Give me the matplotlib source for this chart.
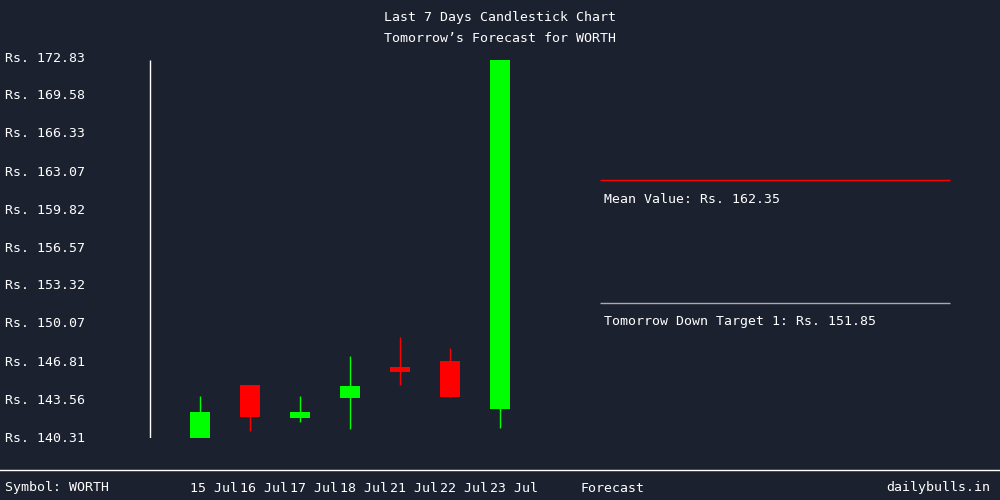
import matplotlib
matplotlib.use("Agg")
import matplotlib.pyplot as plt

dates = ["15 Jul", "16 Jul", "17 Jul", "18 Jul", "21 Jul", "22 Jul", "23 Jul"]
opens = [140.14, 144.85, 142.02, 143.73, 146.39, 146.90, 142.79]
closes = [142.53, 142.11, 142.53, 144.76, 145.96, 143.82, 172.66]
highs = [143.90, 144.85, 143.90, 147.33, 148.95, 148.01, 172.66]
lows = [140.14, 140.91, 141.68, 141.08, 144.85, 143.82, 141.17]
yticks = [140.31, 143.56, 146.81, 150.07, 153.32, 156.57, 159.82, 163.07, 166.33, 169.58, 172.83]
mean_value = 162.35
target1 = 151.85
symbol = "WORTH"

bg = "#1c2130"
fs = 9.5
plt.rcParams["font.family"] = ["DejaVu Sans Mono"]
fig = plt.figure(figsize=(10, 5), dpi=100, facecolor=bg)
ax = fig.add_axes([0, 0.124, 1, 0.76])
ax.set_facecolor(bg)
ax.set_xlim(-4, 16)
ax.set_ylim(140.31, 172.83)
ax.axis("off")

for i, (o, c, h, l) in enumerate(zip(opens, closes, highs, lows)):
    col = "#00ff00" if c >= o else "#ff0000"
    ax.vlines(i, l, h, color=col, lw=1)
    ax.bar(i, abs(c - o), bottom=min(o, c), width=0.4, color=col)

ax.vlines(-1, 140.14, 172.66, color="white", lw=1)
for t in yticks:
    ax.text(-3.9, t, f"Rs. {t:.2f}", color="white", fontsize=fs, va="center", ha="left")

ax.hlines(mean_value, 8, 15, color="#ff0000", lw=1)
ax.text(8.08, mean_value - 1.6, f"Mean Value: Rs. {mean_value:.2f}", color="white", fontsize=fs, va="center")
ax.hlines(target1, 8, 15, color="#aaaaaa", lw=1)
ax.text(8.08, target1 - 1.6, f"Tomorrow Down Target 1: Rs. {target1:.2f}", color="white", fontsize=fs, va="center")

fig.text(0.5, 0.965, "Last 7 Days Candlestick Chart", color="white", fontsize=fs, ha="center", va="center")
fig.text(0.5, 0.923, f"Tomorrow\u2019s Forecast for {symbol}", color="white", fontsize=fs, ha="center", va="center")

fig.add_artist(plt.Line2D([0, 1], [0.06, 0.06], color="white", lw=1))
fig.text(0.005, 0.024, f"Symbol: {symbol}", color="white", fontsize=fs, va="center")
for i, d in enumerate(dates):
    fig.text((214 + 50 * i) / 1000, 0.024, d, color="white", fontsize=fs, ha="center", va="center")
fig.text(0.612, 0.024, "Forecast", color="white", fontsize=fs, ha="center", va="center")
fig.text(0.99, 0.024, "dailybulls.in", color="white", fontsize=fs, ha="right", va="center")

fig.savefig("out.png", dpi=100, facecolor=bg)
